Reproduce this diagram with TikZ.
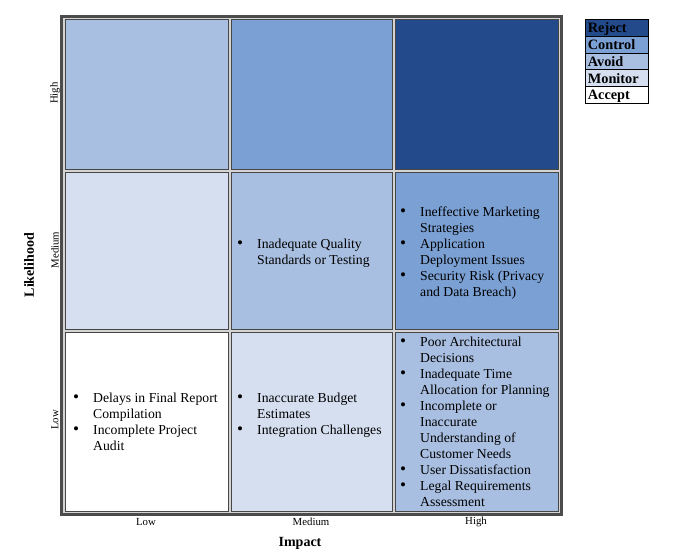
\documentclass[tikz,border=0pt]{standalone}
\usepackage{fontspec}
\setmainfont{Liberation Serif}
\begin{document}
\begin{tikzpicture}[x=1pt,y=-1pt,
  cellbox/.style={draw=gray!55!black, line width=0.8pt},
  items/.style={anchor=west, inner sep=0pt, font=\fontsize{13.7}{16}\selectfont},
  tick/.style={inner sep=0pt, font=\fontsize{10.8}{12}\selectfont},
  axislabel/.style={inner sep=0pt, font=\fontsize{14}{16}\selectfont\bfseries},
  legendbox/.style={draw=black, line width=0.7pt, minimum width=63pt, minimum height=16.8pt,
    anchor=north west, inner sep=0pt, text width=58pt, align=left,
    text height=12pt, text depth=2pt,
    font=\fontsize{14.3}{15}\selectfont\bfseries}
]
\definecolor{cReject}{HTML}{234A8A}
\definecolor{cControl}{HTML}{7BA0D4}
\definecolor{cAvoid}{HTML}{A9BFE1}
\definecolor{cMonitor}{HTML}{D5DFF0}
\definecolor{gapgray}{HTML}{D4D4D4}
\newcommand{\bl}{\makebox[20pt][l]{\scalebox{1.25}{\textbullet}}}
\newcommand{\cn}{\hspace*{20pt}}

\useasboundingbox (0,0) rectangle (682,557);

% table frame with cell spacing
\fill[gapgray] (62,17) rectangle (561,514);
\draw[gray!60!black, line width=2.4pt] (61.5,16.5) rectangle (561.5,514.5);

% cells: high row
\draw[cellbox, fill=cAvoid]   (65,19)  rectangle (228,169);
\draw[cellbox, fill=cControl] (231,19) rectangle (392,169);
\draw[cellbox, fill=cReject]  (395,19) rectangle (558,169);
% medium row
\draw[cellbox, fill=cMonitor] (65,172)  rectangle (228,329);
\draw[cellbox, fill=cAvoid]   (231,172) rectangle (392,329);
\draw[cellbox, fill=cControl] (395,172) rectangle (558,329);
% low row
\draw[cellbox, fill=white]    (65,332)  rectangle (228,511);
\draw[cellbox, fill=cMonitor] (231,332) rectangle (392,511);
\draw[cellbox, fill=cAvoid]   (395,332) rectangle (558,511);

% risk entries
\node[items] (ll) at (73,423.5) {\begin{tabular}{@{}l@{}}
\bl Delays in Final Report\\ \cn Compilation\\
\bl Incomplete Project\\ \cn Audit\end{tabular}};

\node[items] (lm) at (237,415) {\begin{tabular}{@{}l@{}}
\bl Inaccurate Budget\\ \cn Estimates\\
\bl Integration Challenges\end{tabular}};

\node[items] (mm) at (237,253.5) {\begin{tabular}{@{}l@{}}
\bl Inadequate Quality\\ \cn Standards or Testing\end{tabular}};

\node[items] (mh) at (400,253.5) {\begin{tabular}{@{}l@{}}
\bl Ineffective Marketing\\ \cn Strategies\\
\bl Application\\ \cn Deployment Issues\\
\bl Security Risk (Privacy\\ \cn and Data Breach)\end{tabular}};

\node[items] (lh) at (400,423.5) {\begin{tabular}{@{}l@{}}
\bl Poor Architectural\\ \cn Decisions\\
\bl Inadequate Time\\ \cn Allocation for Planning\\
\bl Incomplete or\\ \cn Inaccurate\\ \cn Understanding of\\ \cn Customer Needs\\
\bl User Dissatisfaction\\
\bl Legal Requirements\\ \cn Assessment\end{tabular}};

% axis ticks
\node[tick] (xlow)  at (146,522) {Low};
\node[tick] (xmed)  at (311,522) {Medium};
\node[tick] (xhigh) at (476,522) {High};
\node[tick, rotate=90] (ylow)  at (55,420) {Low};
\node[tick, rotate=90] (ymed)  at (55,250) {Medium};
\node[tick, rotate=90] (yhigh) at (55,93)  {High};

% axis titles
\node[axislabel] (impact) at (300,543) {Impact};
\node[axislabel, rotate=90] (likelihood) at (29,265) {Likelihood};

% legend
\node[legendbox, fill=cReject]  (lg1) at (585,19)   {Reject};
\node[legendbox, fill=cControl] (lg2) at (585,35.8) {Control};
\node[legendbox, fill=cAvoid]   (lg3) at (585,52.6) {Avoid};
\node[legendbox, fill=cMonitor] (lg4) at (585,69.4) {Monitor};
\node[legendbox, fill=white]    (lg5) at (585,86.2) {Accept};
\end{tikzpicture}
\end{document}
